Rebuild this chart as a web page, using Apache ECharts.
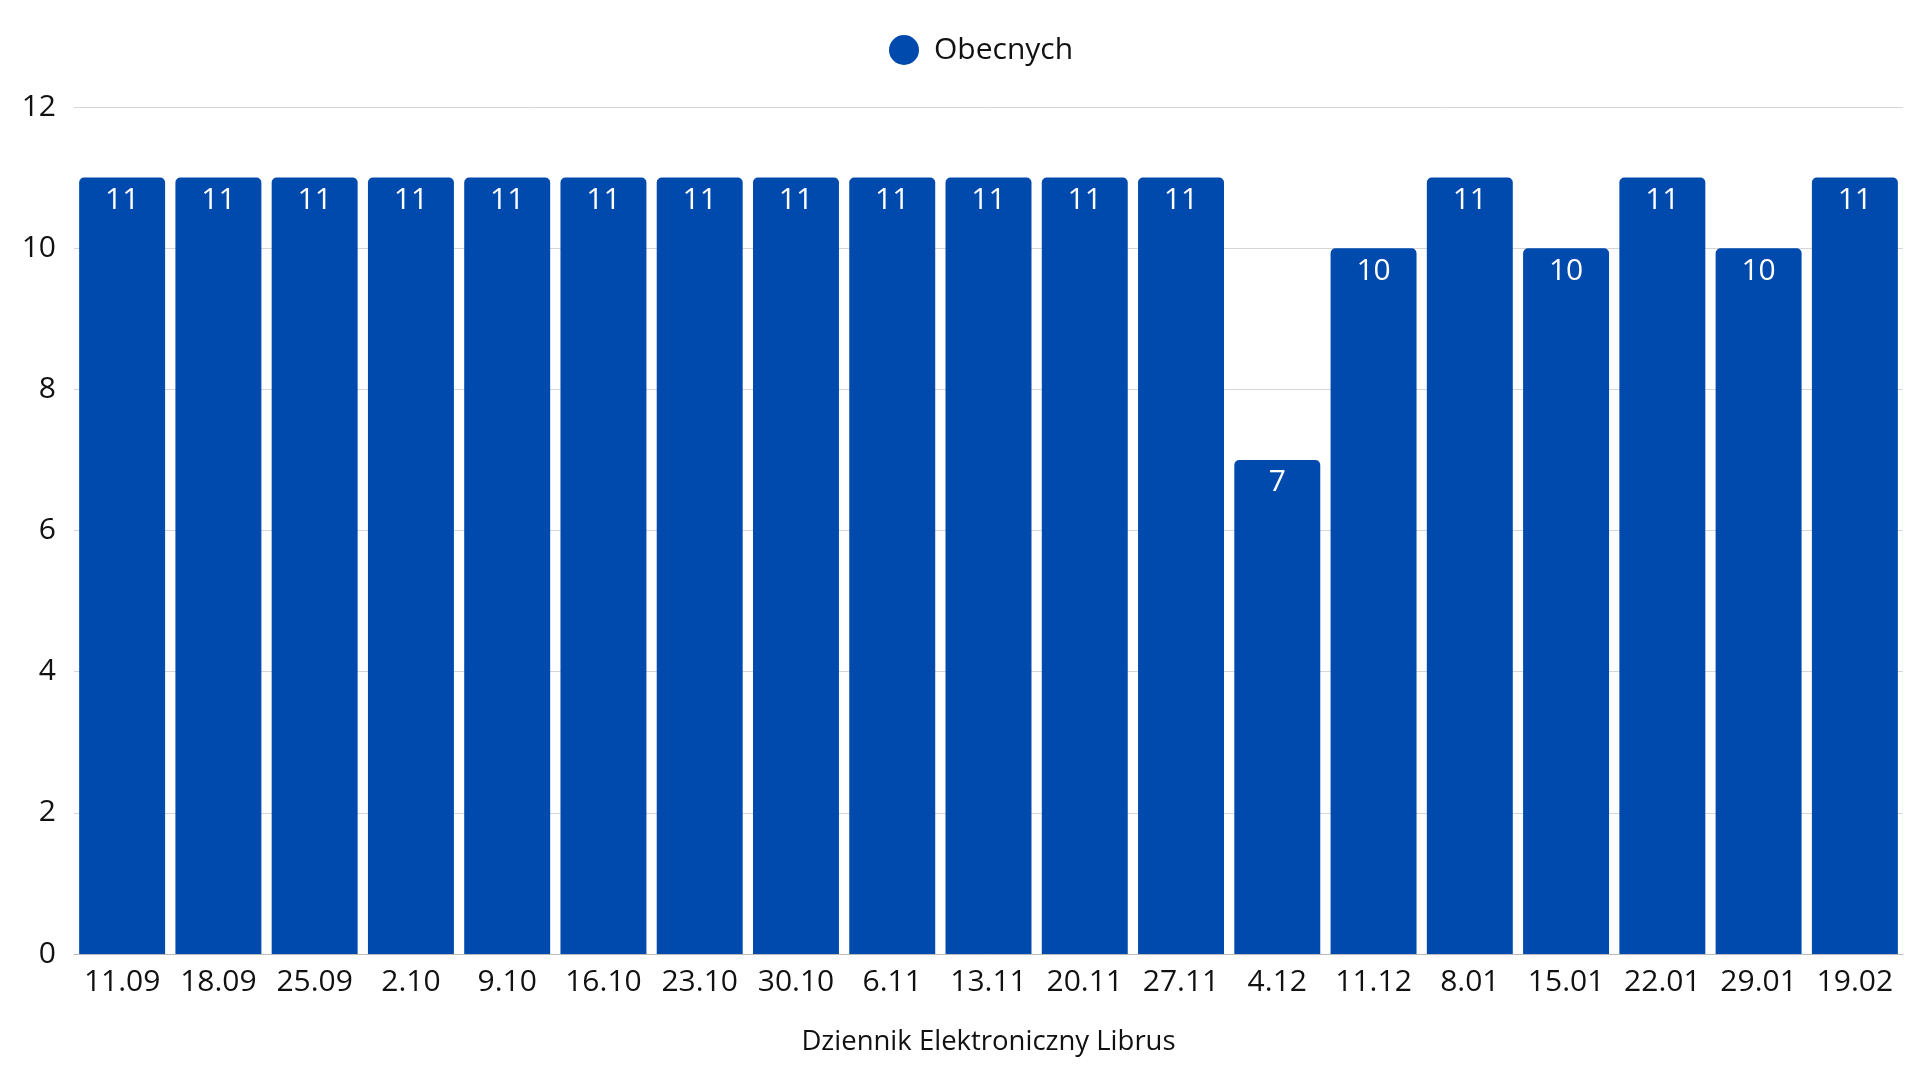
<!DOCTYPE html>
<html><head><meta charset="utf-8">
<script src="https://cdn.jsdelivr.net/npm/echarts@6/dist/echarts.min.js"></script>
<style>html,body{margin:0;padding:0;background:#fff}#c{width:1920px;height:1080px}</style>
</head><body><div id="c"></div>
<script>
const categories = ["11.09","18.09","25.09","2.10","9.10","16.10","23.10","30.10","6.11","13.11","20.11","27.11","4.12","11.12","8.01","15.01","22.01","29.01","19.02"];
const obecnych = [11,11,11,11,11,11,11,11,11,11,11,11,7,10,11,10,11,10,11];
const seriesName = "Obecnych";
const xAxisTitle = "Dziennik Elektroniczny Librus";
const font = "'Open Sans', 'Noto Sans', sans-serif";
const chart = echarts.init(document.getElementById('c'), null, {renderer:'canvas'});
chart.setOption({
  animation:false,
  textStyle:{fontFamily:font},
  legend:{top:30, left:884, icon:'circle', itemWidth:30, itemHeight:30, itemGap:10,
    textStyle:{fontFamily:font, fontSize:30, color:'#111', padding:[0,0,0,10]}, data:[seriesName]},
  grid:{left:74, right:17, top:107, bottom:126, containLabel:false},
  xAxis:{type:'category', data:categories, name:xAxisTitle, nameLocation:'middle', nameGap:74,
    nameTextStyle:{fontFamily:font, fontSize:27.5, color:'#111'},
    axisLine:{show:true, lineStyle:{color:'#bbb', width:1}}, axisTick:{show:false},
    axisLabel:{fontFamily:font, fontSize:30, color:'#111', margin:13, interval:0}},
  yAxis:{type:'value', min:0, max:12, interval:2,
    axisLine:{show:false}, axisTick:{show:false},
    splitLine:{lineStyle:{color:'#d6d6d6', width:1}},
    axisLabel:{fontFamily:font, fontSize:30, color:'#111', margin:18}},
  series:[{name:seriesName, type:'bar', data:obecnych, barCategoryGap:'10.7%',
    itemStyle:{color:'#004AAD', borderRadius:[5,5,0,0]},
    label:{show:true, position:'insideTop', distance:8, color:'#fff', fontFamily:font, fontSize:30}}]
});
</script></body></html>
